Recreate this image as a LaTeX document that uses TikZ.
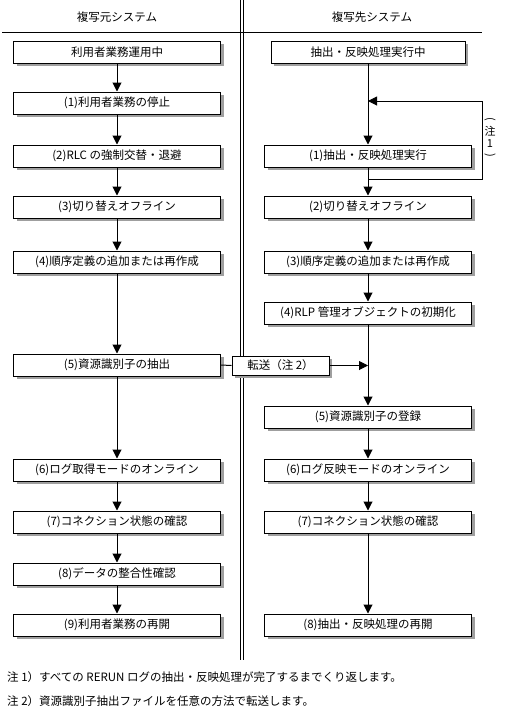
\documentclass[tikz,border=0pt]{standalone}
\usepackage{fontspec}
\setmainfont{Noto Sans CJK JP}
\usetikzlibrary{arrows.meta,shadows}
\begin{document}
\begin{tikzpicture}[x=1pt,y=-1pt,
  every node/.style={font=\fontsize{11.5}{13}\selectfont, inner sep=0pt},
  stepbox/.style={draw=black, line width=1pt, fill=white, minimum width=207pt, minimum height=22pt,
    general shadow={fill=gray!75, shadow xshift=3pt, shadow yshift=-3pt}},
  flow/.style={line width=1pt, -{Triangle[width=9pt,length=9pt]}},
  plain/.style={line width=1pt},
  vch/.style={font=\fontsize{11}{11}\selectfont}]
\useasboundingbox (0,0) rectangle (509,713);
% headers
\node (hl) at (117,17) {複写元システム};
\node (hr) at (372,17) {複写先システム};
\coordinate (hl0) at (2,32);
\coordinate (hl1) at (482,32);
\draw[plain] (hl0) -- (hl1);
\coordinate (d0) at (240,0);
\coordinate (d1) at (240,660);
\coordinate (e0) at (243,0);
\coordinate (e1) at (243,660);
\draw[plain] (d0) -- (d1);
\draw[plain] (e0) -- (e1);
% left column
\node[stepbox] (L0) at (117,52) {利用者業務運用中};
\node[stepbox] (L1) at (117,103) {(1)利用者業務の停止};
\node[stepbox] (L2) at (117,156) {(2)RLC の強制交替・退避};
\node[stepbox] (L3) at (117,207) {(3)切り替えオフライン};
\node[stepbox] (L4) at (117,262) {(4)順序定義の追加または再作成};
\node[stepbox] (L5) at (117,365) {(5)資源識別子の抽出};
\node[stepbox] (L6) at (117,470) {(6)ログ取得モードのオンライン};
\node[stepbox] (L7) at (117,522) {(7)コネクション状態の確認};
\node[stepbox] (L8) at (117,574) {(8)データの整合性確認};
\node[stepbox] (L9) at (117,625) {(9)利用者業務の再開};
\foreach \a/\b in {L0/L1,L1/L2,L2/L3,L3/L4,L4/L5,L5/L6,L6/L7,L7/L8,L8/L9}
  \draw[flow] (\a.south) -- (\b.north);
% right column
\node[stepbox, minimum width=194pt] (R0) at (368,52) {抽出・反映処理実行中};
\node[stepbox] (R1) at (368,156) {(1)抽出・反映処理実行};
\node[stepbox] (R2) at (368,207) {(2)切り替えオフライン};
\node[stepbox] (R3) at (368,262) {(3)順序定義の追加または再作成};
\node[stepbox] (R4) at (368,313) {(4)RLP 管理オブジェクトの初期化};
\node[stepbox] (R5) at (368,417) {(5)資源識別子の登録};
\node[stepbox] (R6) at (368,470) {(6)ログ反映モードのオンライン};
\node[stepbox] (R7) at (368,522) {(7)コネクション状態の確認};
\node[stepbox] (R8) at (368,625) {(8)抽出・反映処理の再開};
\foreach \a/\b in {R0/R1,R1/R2,R2/R3,R3/R4,R4/R5,R5/R6,R6/R7,R7/R8}
  \draw[flow] (\a.south) -- (\b.north);
% loop (note 1)
\coordinate (lp1) at (482,179);
\coordinate (lp2) at (482,101);
\draw[flow] (R1.south |- lp1) -- (lp1) -- (lp2) -- (R1.north |- lp2);
\node[vch, rotate=-90] (n1a) at (490,119) {(};
\node[vch] (n1b) at (490,131) {注};
\node[vch] (n1c) at (490,144) {1};
\node[vch, rotate=-90] (n1d) at (490,155) {)};
% transfer
\node[stepbox, minimum width=97pt, minimum height=19pt] (T) at (280.5,365.5) {転送（注 2）};
\draw[plain] (L5.east) -- (T.west);
\draw[flow] (T.east) -- (T.east -| R4.south);
% notes
\node[anchor=west] (nt1) at (7,677) {注 1）すべての RERUN ログの抽出・反映処理が完了するまでくり返します。};
\node[anchor=west] (nt2) at (7,701) {注 2）資源識別子抽出ファイルを任意の方法で転送します。};
\end{tikzpicture}
\end{document}
